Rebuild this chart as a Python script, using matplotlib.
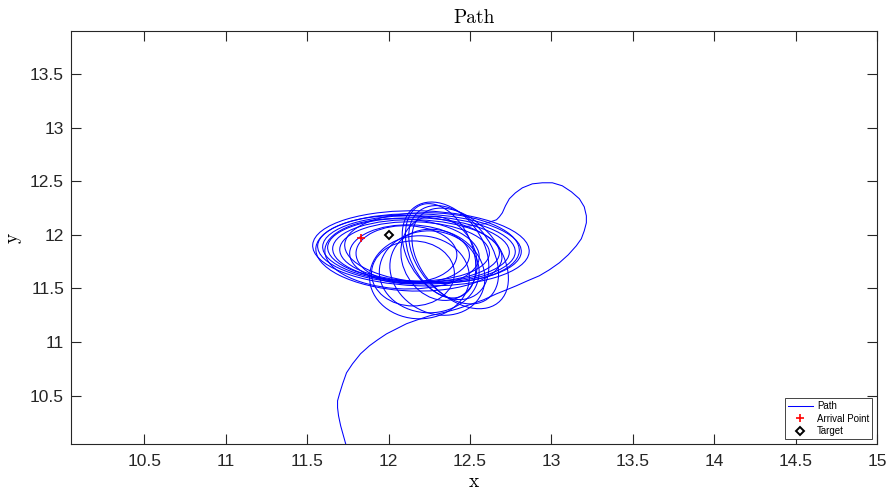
import matplotlib
matplotlib.use('Agg')
import matplotlib.pyplot as plt
from matplotlib.patches import Ellipse

# approach / departure leg of the trajectory (x, y)
tail_x = [11.742, 11.706, 11.693, 11.687, 11.687, 11.699, 11.718, 11.742, 11.779,
          11.828, 11.883, 11.933, 11.988, 12.049, 12.110, 12.178, 12.252, 12.307,
          12.356, 12.423, 12.497, 12.583, 12.663, 12.724, 12.785, 12.853, 12.926,
          12.988, 13.049, 13.104, 13.153, 13.184, 13.202, 13.215, 13.215, 13.202,
          13.172, 13.123, 13.067, 13.006, 12.945, 12.883, 12.822, 12.779, 12.742,
          12.718, 12.699, 12.681, 12.663, 12.589, 12.466]
tail_y = [10.024, 10.220, 10.313, 10.388, 10.453, 10.518, 10.611, 10.714, 10.798,
          10.891, 10.966, 11.021, 11.077, 11.124, 11.171, 11.208, 11.245, 11.264,
          11.282, 11.310, 11.348, 11.394, 11.450, 11.487, 11.525, 11.571, 11.618,
          11.674, 11.739, 11.814, 11.897, 11.963, 12.037, 12.112, 12.177, 12.261,
          12.336, 12.401, 12.457, 12.485, 12.485, 12.475, 12.438, 12.391, 12.336,
          12.270, 12.205, 12.168, 12.140, 12.103, 12.075]

# loiter loops around the target: centre, width, height, tilt (deg)
loop_cx = [12.199, 12.190, 12.187, 12.184, 12.169, 12.160, 12.129,
           12.125, 12.083, 12.267,
           12.350, 12.320, 12.400, 12.440, 12.310,
           12.190, 12.250, 12.150, 12.110, 12.300]
loop_cy = [11.874, 11.869, 11.865, 11.860, 11.851, 11.846, 11.818,
           11.828, 11.823, 11.879,
           11.851, 11.851, 11.814, 11.780, 11.781,
           11.604, 11.655, 11.640, 11.820, 11.651]
loop_w = [1.331, 1.252, 1.184, 1.117, 1.025, 0.920, 0.736,
          1.147, 0.951, 1.074,
          0.491, 0.399, 0.491, 0.520, 0.460,
          0.613, 0.613, 0.509, 0.620, 0.571]
loop_h = [0.699, 0.652, 0.624, 0.596, 0.578, 0.550, 0.550,
          0.699, 0.652, 0.652,
          0.932, 0.895, 0.951, 0.980, 0.790,
          0.774, 0.764, 0.606, 0.530, 0.811]
loop_tilt = [-3, -3, -3, -3, -3, -3, -3,
             -6, -6, -4,
             15, 12, 18, 20, 8,
             0, 0, 0, -5, 12]

arrival = (11.834, 11.972)
target = (12.0, 12.0)

fig = plt.figure(figsize=(8.91, 4.98), dpi=100)
ax = fig.add_axes([0.0797, 0.1084, 0.9046, 0.8294])

ax.plot(tail_x, tail_y, color='blue', lw=0.75, label='Path')
for cx, cy, w, h, t in zip(loop_cx, loop_cy, loop_w, loop_h, loop_tilt):
    ax.add_patch(Ellipse((cx, cy), w, h, angle=t, fill=False,
                         edgecolor='blue', lw=0.75))
ax.plot(arrival[0], arrival[1], '+', color='red', ms=6, mew=1.2,
        label='Arrival Point')
ax.plot(target[0], target[1], 'D', mfc='none', mec='black', ms=4, mew=1.4,
        label='Target')

ax.set_xlim(10.05, 15)
ax.set_ylim(10.05, 13.9)
ax.set_xticks([10.5, 11, 11.5, 12, 12.5, 13, 13.5, 14, 14.5, 15])
ax.set_xticklabels(['10.5', '11', '11.5', '12', '12.5', '13', '13.5', '14', '14.5', '15'])
ax.set_yticks([10.5, 11, 11.5, 12, 12.5, 13, 13.5])
ax.set_yticklabels(['10.5', '11', '11.5', '12', '12.5', '13', '13.5'])

dark = '#262626'
for s in ax.spines.values():
    s.set_color(dark)
    s.set_linewidth(0.8)
ax.tick_params(direction='in', length=7, width=0.8, color=dark, labelcolor=dark,
               labelsize=12.5, top=True, right=True)
ax.tick_params(axis='x', pad=7)
ax.tick_params(axis='y', pad=5)
for lab in ax.get_xticklabels() + ax.get_yticklabels():
    lab.set_family('Liberation Sans')

ax.set_title('Path', family='cmr10', fontsize=14, pad=6)
ax.set_xlabel('x', family='cmr10', fontsize=14, labelpad=3)
ax.set_ylabel('y', family='cmr10', fontsize=14, rotation=90, labelpad=6)

leg = ax.legend(loc='lower right', prop={'family': 'Liberation Sans', 'size': 7},
                fancybox=False, framealpha=1, edgecolor=dark, borderaxespad=0.5,
                handlelength=2.6, handletextpad=0.4, labelspacing=0.25,
                borderpad=0.3)
leg.get_frame().set_linewidth(0.6)

fig.savefig('out.png', dpi=100)
